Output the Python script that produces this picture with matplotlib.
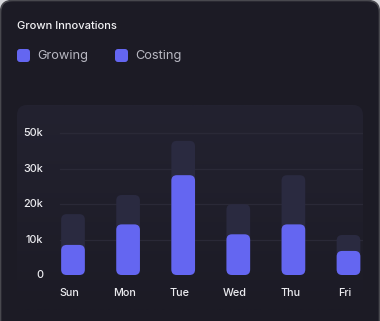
import numpy as np
import matplotlib
matplotlib.use("Agg")
from matplotlib import pyplot as plt
from matplotlib.patches import FancyBboxPatch

plt.rcParams['font.family'] = ['Inter', 'DejaVu Sans']

days = ["Sun", "Mon", "Tue", "Wed", "Thu", "Fri"]
growing = [8.5, 14.3, 28.2, 11.5, 14.3, 6.8]      # front bars (k)
costing = [17.2, 22.6, 37.9, 20.0, 28.2, 11.3]    # back bars (k)
ytick_pos = [0, 10, 20, 30, 40]
ytick_labels = ["0", "10k", "20k", "30k", "50k"]

W, H = 380, 321
BG = "#1c1b25"
BAR = "#6466f1"
BACK = "#2a2a40"

fig = plt.figure(figsize=(W / 100, H / 100), dpi=100)
fig.patch.set_facecolor("#d8d8dc")

# card + inner panel, drawn in pixel coords on a full-figure axes
bg = fig.add_axes([0, 0, 1, 1])
bg.add_patch(FancyBboxPatch((0.5, 0.5), W - 1, H + 30, boxstyle="round,pad=0,rounding_size=12",
                            fc=BG, ec="#48484e", lw=1.2, zorder=1))
panel = FancyBboxPatch((17, 105), 346, 205, boxstyle="round,pad=0,rounding_size=10",
                       fc="none", ec="none")
bg.add_patch(panel)
# panel fades from slightly lighter at top to the card colour at bottom
c_top = np.array([0x23, 0x22, 0x30]) / 255
c_bot = np.array([0x1c, 0x1b, 0x25]) / 255
t = np.linspace(0, 1, 100)[:, None]
grad = (c_top * (1 - t) + c_bot * t)[:, None, :]
im = bg.imshow(grad, extent=(17, 363, 310, 105), aspect="auto", zorder=2)
im.set_clip_path(panel)
bg.set_xlim(0, W)
bg.set_ylim(H, 0)
bg.axis("off")

bg.text(17, 26, "Grown Innovations", color="#f2f2f5", fontsize=8.0, fontweight="medium",
        va="center", ha="left", zorder=3)
for x0, name in [(17, "Growing"), (115, "Costing")]:
    bg.add_patch(FancyBboxPatch((x0, 49), 13, 13, boxstyle="round,pad=0,rounding_size=3",
                                fc=BAR, ec="none", zorder=3))
    bg.text(x0 + 20, 55.5, name, color="#b8b8c2", fontsize=9.2, va="center", ha="left", zorder=3)

# chart axes: bars at px 73 + 55.1*i, zero at y=275, 35.4 px per 10k
px_x = 55.1
px_y = 3.54
left, right = 17, 363
top, bottom = 105, 305
ax = fig.add_axes([left / W, (H - bottom) / H, (right - left) / W, (bottom - top) / H])
ax.set_xlim((left - 73) / px_x, (right - 73) / px_x)
ax.set_ylim(-(bottom - 275) / px_y, (275 - top) / px_y)
ax.axis("off")
ax.patch.set_alpha(0)

x_grid0 = (60 - 73) / px_x
for yv in ytick_pos[1:]:
    ax.plot([x_grid0, ax.get_xlim()[1]], [yv, yv], color="#2a2937", lw=0.9, zorder=1)

bw = 0.43
r = 5.5 / px_x
asp = (5.5 / px_y) / r
for i, (g, c) in enumerate(zip(growing, costing)):
    ax.add_patch(FancyBboxPatch((i - bw / 2, 0), bw, c, boxstyle=f"round,pad=0,rounding_size={r}",
                                mutation_aspect=asp, fc=BACK, ec="none", zorder=2))
    ax.add_patch(FancyBboxPatch((i - bw / 2, 0), bw, g, boxstyle=f"round,pad=0,rounding_size={r}",
                                mutation_aspect=asp, fc=BAR, ec="none", zorder=3))
    ax.text(i - 0.06, -(293 - 275) / px_y, days[i], color="#ececf0", fontsize=7.8,
            fontweight="medium", ha="center", va="center")

for yv, lab in zip(ytick_pos, ytick_labels):
    ax.text((43 - 73) / px_x, yv, lab, color="#ececf0", fontsize=7.8, fontweight="medium",
            ha="right", va="center")

fig.savefig("out.png", dpi=100, facecolor=fig.get_facecolor())
